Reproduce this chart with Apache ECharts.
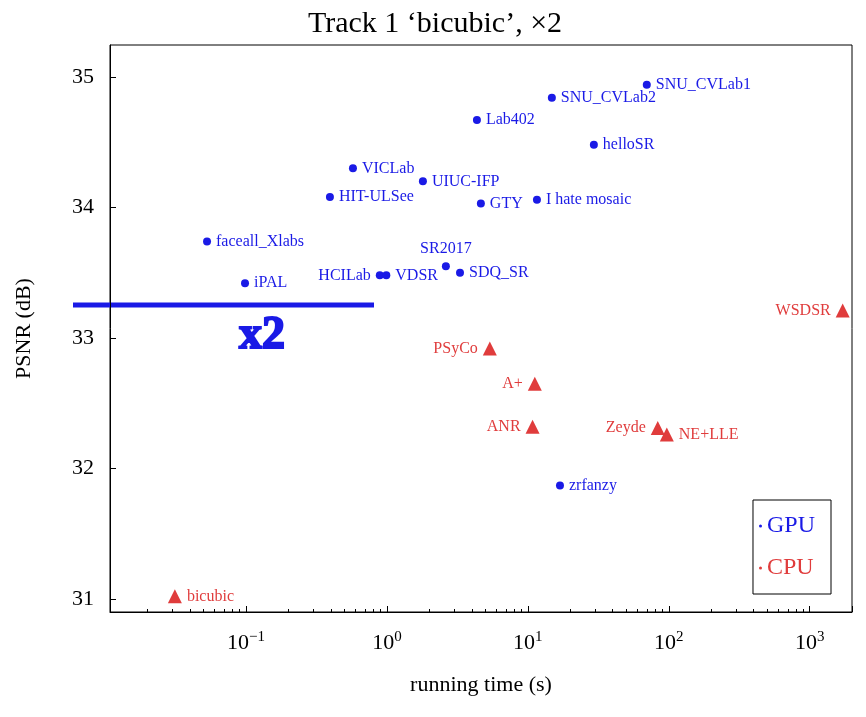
<!DOCTYPE html>
<html><head><meta charset="utf-8">
<script src="https://cdn.jsdelivr.net/npm/echarts@6/dist/echarts.min.js"></script>
<style>html,body{margin:0;background:#fff}#c{width:866px;height:717px}</style>
</head><body><div id="c"></div>
<script>
"use strict";
const gpuNames = ["SNU_CVLab1","SNU_CVLab2","Lab402","helloSR","VICLab","UIUC-IFP","HIT-ULSee","GTY","I hate mosaic","faceall_Xlabs","SR2017","SDQ_SR","HCILab","VDSR","iPAL","zrfanzy"];
const gpuTime  = [69.8,14.8,4.35,29.4,0.574,1.8,0.394,4.64,11.6,0.0529,2.62,3.3,0.89,0.99,0.0984,16.9];
const gpuPsnr  = [34.94,34.84,34.67,34.48,34.30,34.20,34.08,34.03,34.06,33.74,33.55,33.50,33.48,33.48,33.42,31.87];
const gpuLabelPos = ["right","right","right","right","right","right","right","right","right","right","top","right","left","right","right","right"];
const cpuNames = ["WSDSR","PSyCo","A+","ANR","Zeyde","NE+LLE","bicubic"];
const cpuTime  = [1714,5.37,11.2,10.8,83.5,96.8,0.0313];
const cpuPsnr  = [33.21,32.92,32.65,32.32,32.31,32.26,31.02];
const cpuLabelPos = ["left","left","left","left","left","right","right"];
const yTicks = [31,32,33,34,35];

const BLUE = "#1a1ae6", RED = "#e03c3c", FONT = "Liberation Serif";
const chart = echarts.init(document.getElementById("c"));

function pts(names, xs, ys, pos){
    return names.map((n, i) => ({ value: [xs[i], ys[i]], name: n, label: { position: pos[i] } }));
}

chart.setOption({
    animation: false,
    textStyle: { fontFamily: FONT },
    title: { text: "Track 1 \u2018bicubic\u2019, \u00d72", left: 430, top: 4, textAlign: "center",
        textStyle: { fontFamily: FONT, fontSize: 30, fontWeight: "normal", color: "#000" } },
    grid: { left: 110, right: 14, top: 45, bottom: 105, show: true, borderColor: "#000", borderWidth: 1 },
    xAxis: {
        type: "log", logBase: 10, min: Math.pow(10, -1.965), max: Math.pow(10, 3.3),
        name: "running time (s)", nameLocation: "middle", nameGap: 62,
        nameTextStyle: { fontFamily: FONT, fontSize: 22, color: "#000" },
        axisLine: { lineStyle: { color: "#000" } }, splitLine: { show: false },
        axisTick: { inside: true, length: 6, lineStyle: { color: "#000" } },
        minorTick: { show: true, splitNumber: 9 },
        axisLabel: {
            margin: 18, color: "#000", fontSize: 22, fontFamily: FONT, showMaxLabel: false, showMinLabel: false,
            formatter: v => { const e = Math.round(Math.log10(v)); return "10{s|" + (e < 0 ? "\u2212" + (-e) : e) + "}"; },
            rich: { s: { fontSize: 15, verticalAlign: "top", padding: [0, 0, 12, 0], fontFamily: FONT } }
        }
    },
    yAxis: {
        type: "value", min: 30.9, max: 35.245,
        name: "PSNR (dB)", nameLocation: "middle", nameGap: 75,
        nameTextStyle: { fontFamily: FONT, fontSize: 22, color: "#000" },
        axisLine: { show: true, lineStyle: { color: "#000" } }, splitLine: { show: false },
        axisTick: { inside: true, length: 6, customValues: yTicks, lineStyle: { color: "#000" } },
        axisLabel: { customValues: yTicks, color: "#000", fontSize: 22, fontFamily: FONT, margin: 16 }
    },
    legend: {
        right: 35, top: 500, orient: "vertical", itemGap: 18, padding: [14, 16, 14, 6],
        borderColor: "#000", borderWidth: 1, itemWidth: 3, itemHeight: 3, icon: "circle",
        textStyle: { fontFamily: FONT, fontSize: 24 },
        data: [{ name: "GPU", textStyle: { color: BLUE } }, { name: "CPU", textStyle: { color: RED } }]
    },
    series: [
        { name: "GPU", type: "scatter", symbol: "circle", symbolSize: 8, itemStyle: { color: BLUE, opacity: 1 },
          data: pts(gpuNames, gpuTime, gpuPsnr, gpuLabelPos),
          label: { show: true, formatter: "{b}", color: BLUE, fontSize: 16, fontFamily: FONT, distance: 5 } },
        { name: "CPU", type: "scatter", symbol: "triangle", symbolSize: 14, itemStyle: { color: RED, opacity: 1 },
          data: pts(cpuNames, cpuTime, cpuPsnr, cpuLabelPos),
          label: { show: true, formatter: "{b}", color: RED, fontSize: 16, fontFamily: FONT, distance: 5 } }
    ],
    graphic: [
        { type: "line", shape: { x1: 73, y1: 305, x2: 374, y2: 305 }, style: { stroke: BLUE, lineWidth: 5 } },
        { type: "text", x: 262, y: 336, style: { text: "x2", fill: BLUE, stroke: BLUE, lineWidth: 2, font: "bold 46px 'Liberation Serif'", align: "center", verticalAlign: "middle" } }
    ]
});
</script></body></html>
